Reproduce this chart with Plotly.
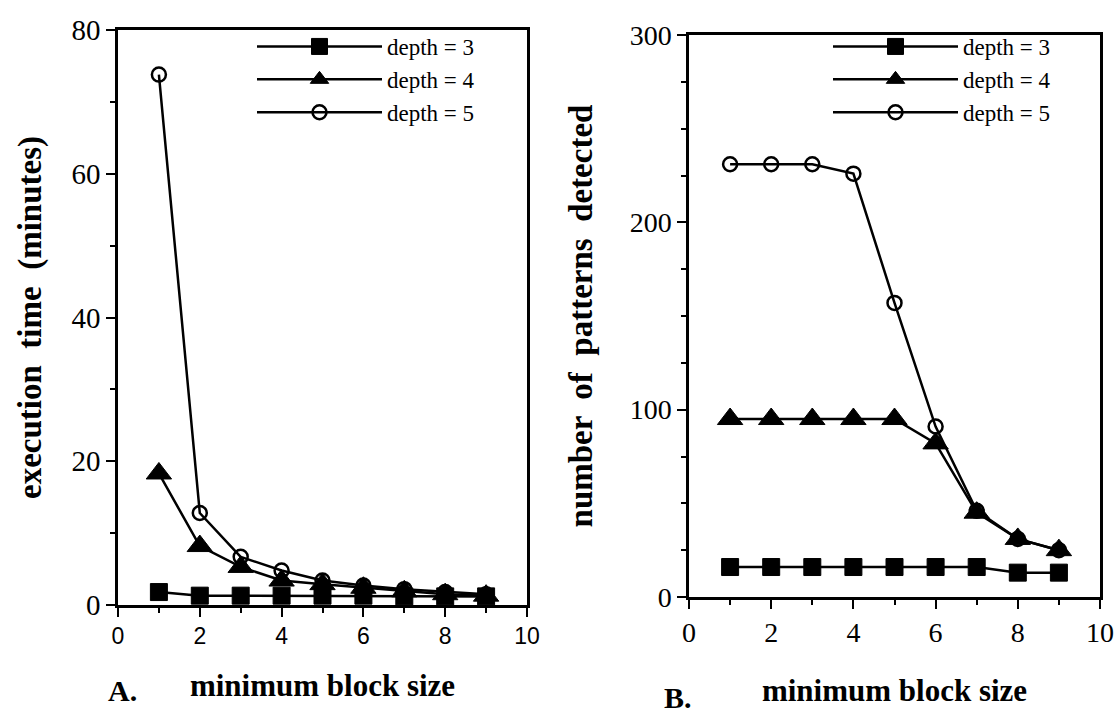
import plotly.graph_objects as go

block_size = [1, 2, 3, 4, 5, 6, 7, 8, 9]

# Panel A: execution time (minutes)
time_d3 = [1.8, 1.3, 1.3, 1.3, 1.3, 1.3, 1.2, 1.2, 1.2]
time_d4 = [18.3, 8.2, 5.3, 3.4, 2.9, 2.4, 1.9, 1.5, 1.3]
time_d5 = [73.8, 12.8, 6.7, 4.8, 3.4, 2.7, 2.2, 1.8, 1.5]

# Panel B: number of patterns detected
pat_d3 = [16, 16, 16, 16, 16, 16, 16, 13, 13]
pat_d4 = [95, 95, 95, 95, 95, 82, 45, 31, 25]
pat_d5 = [231, 231, 231, 226, 157, 91, 46, 31, 25]

series_names = ["depth = 3", "depth = 4", "depth = 5"]
x_ticks = [0, 2, 4, 6, 8, 10]
y_ticks_a = [0, 20, 40, 60, 80]
y_ticks_b = [0, 100, 200, 300]

SERIF = "Liberation Serif, Times New Roman, serif"
SANS = "Liberation Sans, Arial, sans-serif"

markers = [
    dict(symbol="square", size=17, color="black", line=dict(color="black", width=1)),
    dict(symbol="triangle-up", size=22, color="black", line=dict(color="black", width=1)),
    dict(symbol="circle-open", size=14, color="black", line=dict(color="black", width=2.5)),
]

fig = go.Figure()

for name, ys, mk in zip(series_names, [time_d3, time_d4, time_d5], markers):
    fig.add_trace(go.Scatter(
        x=block_size, y=ys, name=name, mode="lines+markers",
        line=dict(color="black", width=2.5), marker=mk,
        xaxis="x", yaxis="y", legend="legend", cliponaxis=False,
    ))

for name, ys, mk in zip(series_names, [pat_d3, pat_d4, pat_d5], markers):
    fig.add_trace(go.Scatter(
        x=block_size, y=ys, name=name, mode="lines+markers",
        line=dict(color="black", width=2.5), marker=mk,
        xaxis="x2", yaxis="y2", legend="legend2", cliponaxis=False,
    ))

W, H = 1117, 719

common_axis = dict(
    showgrid=False, zeroline=False, showline=True, linecolor="black",
    linewidth=2.5, mirror=True, ticks="outside", tickcolor="black",
    tickwidth=2, ticklen=9, automargin=False,
)

def minor(d):
    return dict(dtick=d, ticks="outside", ticklen=5, tickcolor="black", tickwidth=2)

fig.update_layout(
    template="none",
    width=W, height=H,
    margin=dict(l=0, r=0, t=0, b=0, autoexpand=False),
    paper_bgcolor="white", plot_bgcolor="white",
    xaxis=dict(
        common_axis, domain=[118 / W, 527 / W], range=[0, 10],
        tickvals=x_ticks, tickfont=dict(family=SANS, size=23, color="black"),
        minor=minor(1),
        title=dict(text="<b>minimum block size</b>",
                   font=dict(family=SERIF, size=31, color="black"), standoff=26),
        anchor="y",
    ),
    yaxis=dict(
        common_axis, domain=[1 - 605 / H, 1 - 30 / H], range=[0, 80],
        tickvals=y_ticks_a, tickfont=dict(family=SERIF, size=29, color="black"),
        minor=minor(10),
        title=dict(text="<b>execution  time  (minutes)</b>",
                   font=dict(family=SERIF, size=33, color="black"), standoff=20),
        anchor="x",
    ),
    xaxis2=dict(
        common_axis, domain=[689 / W, 1100 / W], range=[0, 10],
        tickvals=x_ticks, tickfont=dict(family=SERIF, size=28, color="black"),
        minor=minor(1),
        title=dict(text="<b>minimum block size</b>",
                   font=dict(family=SERIF, size=31, color="black"), standoff=32),
        anchor="y2",
    ),
    yaxis2=dict(
        common_axis, domain=[1 - 597 / H, 1 - 35 / H], range=[0, 300],
        tickvals=y_ticks_b, tickfont=dict(family=SERIF, size=28, color="black"),
        minor=minor(25),
        title=dict(text="<b>number  of  patterns  detected</b>",
                   font=dict(family=SERIF, size=33, color="black"), standoff=28),
        anchor="x2",
    ),
    legend=dict(
        x=252 / W, y=1 - 25 / H, xanchor="left", yanchor="top",
        bgcolor="rgba(0,0,0,0)", font=dict(family=SERIF, size=23, color="black"),
        itemwidth=125, tracegroupgap=0, borderwidth=0,
    ),
    legend2=dict(
        x=828 / W, y=1 - 25 / H, xanchor="left", yanchor="top",
        bgcolor="rgba(0,0,0,0)", font=dict(family=SERIF, size=23, color="black"),
        itemwidth=125, tracegroupgap=0, borderwidth=0,
    ),
    annotations=[
        dict(text="<b>A.</b>", x=106 / W, y=1 - 690 / H, xref="paper", yref="paper",
             xanchor="left", yanchor="middle", showarrow=False,
             font=dict(family=SERIF, size=30, color="black")),
        dict(text="<b>B.</b>", x=662 / W, y=1 - 697 / H, xref="paper", yref="paper",
             xanchor="left", yanchor="middle", showarrow=False,
             font=dict(family=SERIF, size=30, color="black")),
    ],
    showlegend=True,
)

fig.write_html(
    "out.html",
    config={"displayModeBar": False},
    post_script="document.body.style.margin='0';document.body.style.overflow='hidden';",
)
